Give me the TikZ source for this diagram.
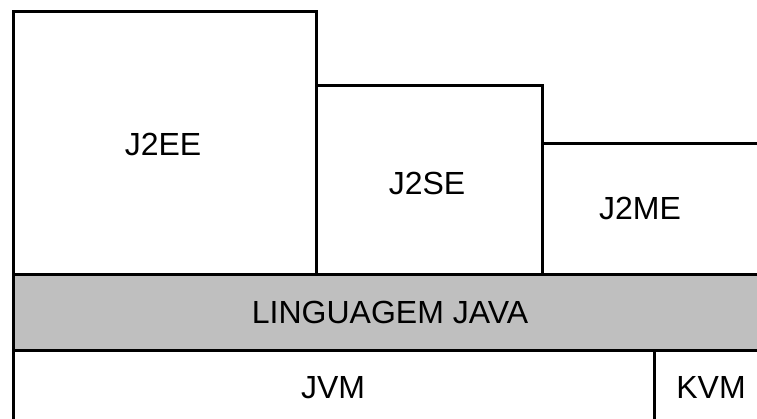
\documentclass[tikz,border=0pt]{standalone}
\usepackage{fontspec}
\setmainfont{Liberation Sans}
\begin{document}
\begin{tikzpicture}[x=1pt,y=-1pt,
  layer/.style={draw=black, line width=3pt, rectangle, anchor=north west,
    inner sep=0pt, outer sep=0pt},
  lang/.style={layer, fill=black!25},
  label/.style={font=\fontsize{32}{38}\selectfont, inner sep=0pt, text height=22.9pt, text depth=0pt}]
  \useasboundingbox (0,0) rectangle (757,419);
  \clip (0,0) rectangle (757,419);
  \fill[white] (0,0) rectangle (757,419);

  % platform editions
  \node[layer, minimum width=303pt, minimum height=263pt] (ee) at (13,12) {};
  \node[layer, minimum width=226pt, minimum height=189pt] (se) at (316,86) {};
  \node[layer, minimum width=240pt, minimum height=131pt] (me) at (542,144) {};

  % language layer
  \node[lang, minimum width=770pt, minimum height=75pt] (java) at (13,275) {};

  % virtual machines
  \node[layer, minimum width=641pt, minimum height=90pt] (jvm) at (13,350) {};
  \node[layer, minimum width=140pt, minimum height=90pt] (kvm) at (654,350) {};

  % labels
  \node[label] (tee) at (163,144) {J2EE};
  \node[label] (tse) at (427,183) {J2SE};
  \node[label] (tme) at (640,208) {J2ME};
  \node[label] (tjava) at (390,312) {LINGUAGEM JAVA};
  \node[label] (tjvm) at (333,387) {JVM};
  \node[label] (tkvm) at (711,387) {KVM};
\end{tikzpicture}
\end{document}
